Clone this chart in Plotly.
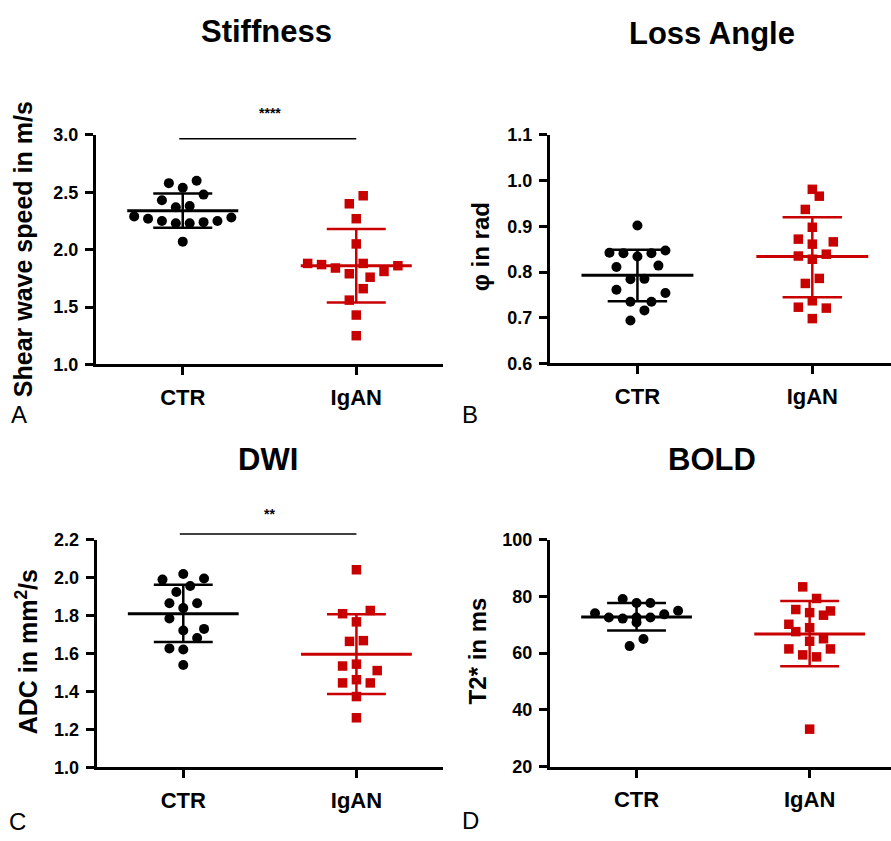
import plotly.graph_objects as go

# ---------------- data ----------------
categories = ["CTR", "IgAN"]
titles = ["Stiffness", "Loss Angle", "DWI", "BOLD"]
ytitles = ["Shear wave speed in m/s", "φ in rad", "ADC in mm<sup>2</sup>/s", "T2* in ms"]
panel_letters = ["A", "B", "C", "D"]

# Panel A – Stiffness
A_ctr = [2.58, 2.60, 2.54, 2.48, 2.43, 2.37, 2.38, 2.29, 2.27, 2.25, 2.23, 2.23, 2.24, 2.25, 2.28, 2.07]
A_ctr_dx = [-0.08, 0.08, 0, 0.12, -0.12, -0.04, 0.04, -0.28, -0.2, -0.12, -0.04, 0.04, 0.12, 0.2, 0.28, 0]
A_igan = [2.47, 2.40, 2.27, 2.05, 1.88, 1.87, 1.84, 1.88, 1.79, 1.76, 1.81, 1.86, 1.66, 1.56, 1.43, 1.25]
A_igan_dx = [0.04, -0.04, 0, 0, -0.28, -0.2, -0.12, 0.04, -0.04, 0.08, 0.16, 0.24, 0.04, -0.04, 0, 0]
A_mean = [2.34, 1.86]
A_lo = [2.19, 1.54]
A_hi = [2.49, 2.18]

# Panel B – Loss Angle
B_ctr = [0.902, 0.842, 0.841, 0.834, 0.841, 0.847, 0.811, 0.814, 0.784, 0.785, 0.761, 0.754, 0.735, 0.735, 0.716, 0.694]
B_ctr_dx = [0, -0.16, -0.08, 0, 0.08, 0.16, -0.12, 0.12, -0.04, 0.04, -0.12, 0.16, -0.04, 0.08, 0.04, -0.04]
B_igan = [0.981, 0.966, 0.937, 0.898, 0.872, 0.861, 0.866, 0.835, 0.839, 0.828, 0.786, 0.775, 0.737, 0.723, 0.721, 0.698]
B_igan_dx = [0, 0.04, -0.04, 0, -0.08, 0, 0.12, -0.08, 0.08, 0, 0.04, -0.04, 0, -0.08, 0.08, 0]
B_mean = [0.793, 0.834]
B_lo = [0.736, 0.745]
B_hi = [0.849, 0.920]

# Panel C – DWI
C_ctr = [2.02, 1.99, 1.996, 1.956, 1.925, 1.865, 1.865, 1.84, 1.785, 1.721, 1.73, 1.682, 1.627, 1.621, 1.539]
C_ctr_dx = [0, -0.12, 0.12, 0.04, -0.04, -0.08, 0.08, 0, -0.08, 0, 0.12, 0.08, -0.08, 0, 0]
C_igan = [2.042, 1.81, 1.827, 1.767, 1.664, 1.668, 1.534, 1.544, 1.51, 1.445, 1.462, 1.445, 1.373, 1.261]
C_igan_dx = [0, -0.08, 0.08, 0, -0.04, 0.04, -0.08, 0, 0.12, -0.08, 0, 0.08, 0, 0]
C_mean = [1.81, 1.596]
C_lo = [1.661, 1.386]
C_hi = [1.963, 1.807]

# Panel D – BOLD
D_ctr = [79.1, 77.7, 77.7, 74.1, 75.0, 72.6, 72.2, 72.6, 72.6, 73.7, 70.8, 65.0, 62.5]
D_ctr_dx = [-0.08, 0, 0.08, -0.24, 0.24, -0.16, -0.08, 0, 0.08, 0.16, 0, 0.04, -0.04]
D_igan = [83.4, 79.3, 75.4, 74.3, 74.9, 73.4, 70.2, 69.0, 67.6, 65.1, 64.2, 61.5, 61.5, 59.4, 58.7, 33.2]
D_igan_dx = [-0.04, 0.04, -0.08, 0, 0.12, 0.08, -0.12, 0, -0.08, 0.08, 0, -0.12, 0.12, -0.04, 0.04, 0]
D_mean = [72.8, 66.8]
D_lo = [68.0, 55.4]
D_hi = [77.7, 78.4]

y_ranges = [[1.0, 3.0], [0.6, 1.1], [1.0, 2.2], [20, 100]]
y_dticks = [0.5, 0.1, 0.2, 20]
y_tickformat = [".1f", ".1f", ".1f", "d"]
significance = ["****", None, "**", None]

# ---------------- layout geometry ----------------
W, H = 891, 841
def px(x):
    return x / W
def py(y):
    return 1 - y / H

x_domains = [[px(96), px(443)], [px(550), 1.0], [px(96.7), px(443)], [px(550), 1.0]]
y_domains = [[py(363), py(128)], [py(362), py(128)], [py(775.7), py(542.7)], [py(775), py(542.7)]]
x_ranges = [[-0.5, 1.5], [-0.5, 1.45], [-0.5, 1.5], [-0.5, 1.47]]

BLACK = "#000000"
RED = "#c80000"
FONT = "Liberation Sans, Arial, sans-serif"

panels = [
    (A_ctr, A_ctr_dx, A_igan, A_igan_dx, A_mean, A_lo, A_hi),
    (B_ctr, B_ctr_dx, B_igan, B_igan_dx, B_mean, B_lo, B_hi),
    (C_ctr, C_ctr_dx, C_igan, C_igan_dx, C_mean, C_lo, C_hi),
    (D_ctr, D_ctr_dx, D_igan, D_igan_dx, D_mean, D_lo, D_hi),
]

fig = go.Figure()
layout = dict(
    width=W, height=H, margin=dict(l=0, r=0, t=0, b=0),
    paper_bgcolor="white", plot_bgcolor="white", showlegend=False,
    font=dict(family=FONT, color=BLACK),
)
annotations = []
shapes = []

MEAN_HW = 0.32
SD_HW = 0.17

for i, (ctr, ctr_dx, igan, igan_dx, mean, lo, hi) in enumerate(panels):
    n = i + 1
    xa = "x" if n == 1 else f"x{n}"
    ya = "y" if n == 1 else f"y{n}"
    xkey = "xaxis" if n == 1 else f"xaxis{n}"
    ykey = "yaxis" if n == 1 else f"yaxis{n}"

    groups = [(ctr, ctr_dx, BLACK, "circle"), (igan, igan_dx, RED, "square")]
    for g, (vals, dxs, col, sym) in enumerate(groups):
        fig.add_trace(go.Scatter(
            x=[g + d for d in dxs], y=vals, mode="markers",
            marker=dict(symbol=sym, size=10 if sym == "circle" else 9.5, color=col, line=dict(width=0)),
            xaxis=xa, yaxis=ya, hoverinfo="skip", cliponaxis=False,
        ))
        # mean line
        fig.add_trace(go.Scatter(x=[g - MEAN_HW, g + MEAN_HW], y=[mean[g], mean[g]], mode="lines",
                                 line=dict(color=col, width=3), xaxis=xa, yaxis=ya, hoverinfo="skip"))
        # SD bars
        fig.add_trace(go.Scatter(
            x=[g - SD_HW, g + SD_HW, None, g - SD_HW, g + SD_HW, None, g, g],
            y=[lo[g], lo[g], None, hi[g], hi[g], None, lo[g], hi[g]],
            mode="lines", line=dict(color=col, width=2.5), xaxis=xa, yaxis=ya, hoverinfo="skip"))

    layout[xkey] = dict(
        domain=x_domains[i], range=x_ranges[i], anchor=ya,
        tickmode="array", tickvals=[0, 1], ticktext=categories,
        showline=True, linecolor=BLACK, linewidth=3,
        ticks="outside", ticklen=8, tickwidth=3, tickcolor=BLACK,
        ticklabelstandoff=3,
        tickfont=dict(family=FONT, size=22, color=BLACK, weight="bold"),
        showgrid=False, zeroline=False, fixedrange=True,
    )
    layout[ykey] = dict(
        domain=y_domains[i], range=y_ranges[i], anchor=xa,
        tick0=y_ranges[i][0], dtick=y_dticks[i], tickformat=y_tickformat[i],
        showline=True, linecolor=BLACK, linewidth=3,
        ticks="outside", ticklen=8, tickwidth=3, tickcolor=BLACK,
        ticklabelstandoff=3,
        tickfont=dict(family=FONT, size=18, color=BLACK, weight="bold"),
        showgrid=False, zeroline=False, fixedrange=True,
    )

# titles
title_pos = [(266, 22), (712, 24), (268, 460), (712, 460)]
for t, (tx, ty) in zip(titles, title_pos):
    annotations.append(dict(text=f"<b>{t}</b>", x=px(tx), y=py(ty), xref="paper", yref="paper",
                            xanchor="center", yanchor="middle", showarrow=False,
                            font=dict(family=FONT, size=31, color=BLACK)))

# y-axis titles
ytitle_pos = [(23, 245), (480, 243), (27, 658), (477, 657)]
ytitle_sizes = [25, 24, 25, 24]
for t, (tx, ty), fs in zip(ytitles, ytitle_pos, ytitle_sizes):
    annotations.append(dict(text=f"<b>{t}</b>", x=px(tx), y=py(ty), xref="paper", yref="paper",
                            xanchor="center", yanchor="middle", showarrow=False, textangle=-90,
                            font=dict(family=FONT, size=fs, color=BLACK)))

# panel letters
letter_pos = [(19, 414), (470, 414), (17, 831), (470, 830)]
for t, (tx, ty) in zip(panel_letters, letter_pos):
    annotations.append(dict(text=t, x=px(tx), y=py(ty), xref="paper", yref="paper",
                            xanchor="center", yanchor="middle", showarrow=False,
                            font=dict(family=FONT, size=24, color=BLACK)))

# significance bars
sig_line_y = [132, None, 536.7, None]
sig_text_y = [106, None, 516, None]
for i, s in enumerate(significance):
    if s is None:
        continue
    xa = "x" if i == 0 else f"x{i+1}"
    shapes.append(dict(type="line", xref=xa, yref="paper", x0=-0.02, x1=1.0,
                       y0=py(sig_line_y[i]), y1=py(sig_line_y[i]),
                       line=dict(color=BLACK, width=1.5)))
    annotations.append(dict(text=f"<b>{s}</b>", xref=xa, yref="paper", x=0.5, y=py(sig_text_y[i]),
                            xanchor="center", yanchor="middle", showarrow=False,
                            font=dict(family=FONT, size=14, color=BLACK)))

layout["annotations"] = annotations
layout["shapes"] = shapes
fig.update_layout(**layout)
fig.write_html("out.html")
